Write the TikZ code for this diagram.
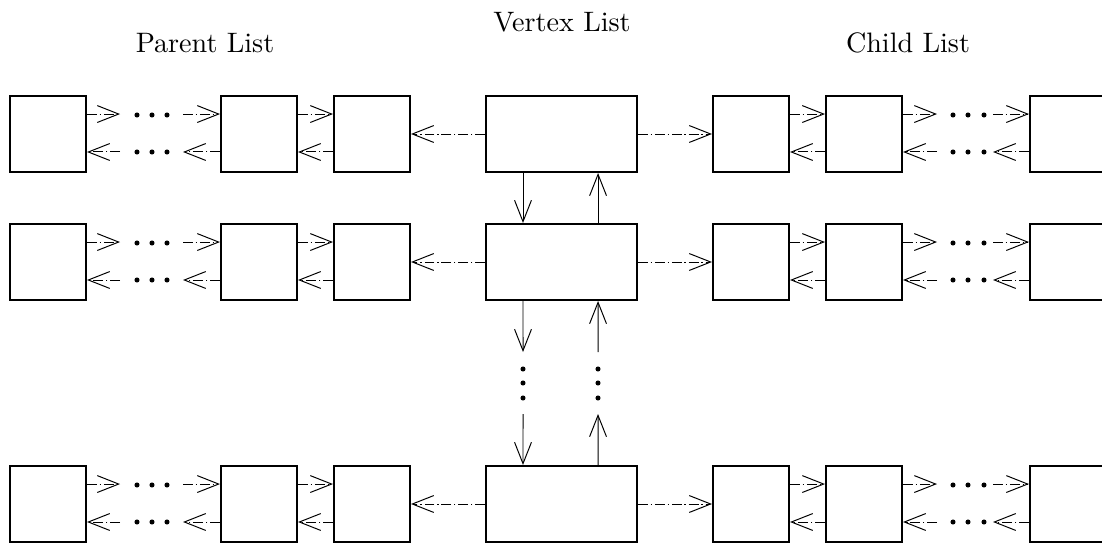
\documentclass[tikz,border=0pt]{standalone}
\usepackage{tikz}
\usetikzlibrary{arrows.meta}

\def\hi{7.1pt}
\def\lo{-6.4pt}
\def\vl{-13.7pt}
\def\vr{13pt}

\begin{document}
\begin{tikzpicture}[
        x=0.3557pt, y=-0.3557pt,
        cell/.style={rectangle, draw, line width=0.75pt, inner sep=0pt,
                   minimum width=27pt, minimum height=27pt},
        vtx/.style={cell, minimum width=53.7pt},
        link/.style={-{Straight Barb[length=7.6pt,width=6pt]}, line width=0.35pt,
                   dash pattern=on 3.5pt off 1pt on 0.5pt off 1pt},
        vlink/.style={-{Straight Barb[length=7.6pt,width=6pt]}, line width=0.35pt},
        title/.style={anchor=base, font=\normalsize}
    ]
        \clip (0,0) rectangle (1102,543);

        \node[title] (parent) at (205,53) {Parent List};
        \node[title] (vertex) at (562,32) {Vertex List};
        \node[title] (child) at (908,53) {Child List};

        \foreach \r/\y in {1/134,2/262,3/504} {
            \node[cell] (pa\r) at (48,\y) {};
            \node[cell] (pb\r) at (259,\y) {};
            \node[cell] (pc\r) at (372,\y) {};
            \node[vtx] (v\r) at (561.5,\y) {};
            \node[cell] (ca\r) at (751,\y) {};
            \node[cell] (cb\r) at (864,\y) {};
            \node[cell] (cc\r) at (1068,\y) {};

            % parent list
            \coordinate (pl\r) at (120,\y);
            \coordinate (pr\r) at (183,\y);
            \draw[link] ([yshift=\hi]pa\r.east) -- ([yshift=\hi]pl\r);
            \draw[link] ([yshift=\hi]pr\r) -- ([yshift=\hi]pb\r.west);
            \draw[link] ([yshift=\lo]pl\r) -- ([yshift=\lo]pa\r.east);
            \draw[link] ([yshift=\lo]pb\r.west) -- ([yshift=\lo]pr\r);
            \foreach \d in {137,152,167} {
                \fill (\d,\y-19) circle (0.9pt);
                \fill (\d,\y+18) circle (0.9pt);
            }
            \draw[link] ([yshift=\hi]pb\r.east) -- ([yshift=\hi]pc\r.west);
            \draw[link] ([yshift=\lo]pc\r.west) -- ([yshift=\lo]pb\r.east);
            \draw[link] (v\r) -- (pc\r);

            % child list
            \draw[link] (v\r) -- (ca\r);
            \draw[link] ([yshift=\hi]ca\r.east) -- ([yshift=\hi]cb\r.west);
            \draw[link] ([yshift=\lo]cb\r.west) -- ([yshift=\lo]ca\r.east);
            \coordinate (cl\r) at (937,\y);
            \coordinate (cr\r) at (993,\y);
            \draw[link] ([yshift=\hi]cb\r.east) -- ([yshift=\hi]cl\r);
            \draw[link] ([yshift=\hi]cr\r) -- ([yshift=\hi]cc\r.west);
            \draw[link] ([yshift=\lo]cl\r) -- ([yshift=\lo]cb\r.east);
            \draw[link] ([yshift=\lo]cc\r.west) -- ([yshift=\lo]cr\r);
            \foreach \d in {953,968,984} {
                \fill (\d,\y-19) circle (0.9pt);
                \fill (\d,\y+18) circle (0.9pt);
            }
        }

        % vertex list
        \draw[vlink] ([xshift=\vl]v1.south) -- ([xshift=\vl]v2.north);
        \draw[vlink] ([xshift=\vr]v2.north) -- ([xshift=\vr]v1.south);

        \coordinate (da) at (523,352);
        \coordinate (db) at (523,414);
        \coordinate (ua) at (598,352);
        \coordinate (ub) at (598,414);
        \draw[vlink] ([xshift=\vl]v2.south) -- (da);
        \draw[vlink] (db) -- ([xshift=\vl]v3.north);
        \draw[vlink] (ua) -- ([xshift=\vr]v2.south);
        \draw[vlink] ([xshift=\vr]v3.north) -- (ub);
        \foreach \d in {369,383,398} {
            \fill (523,\d) circle (0.9pt);
            \fill (598,\d) circle (0.9pt);
        }
    \end{tikzpicture}
\end{document}
